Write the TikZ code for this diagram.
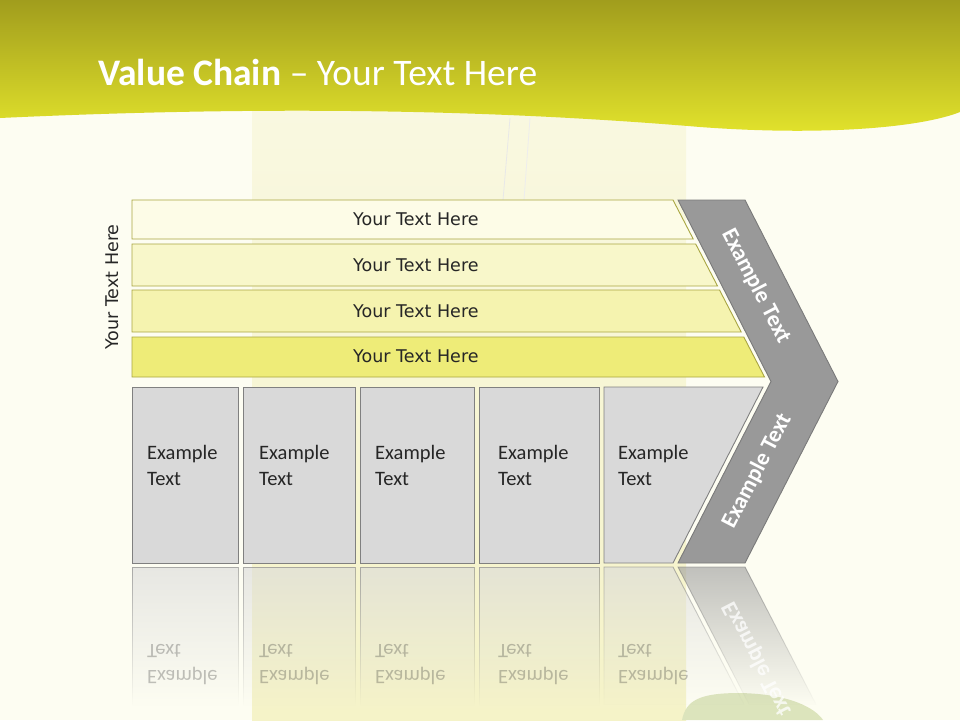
\documentclass[tikz,border=0pt]{standalone}
\usepackage{fontspec}
\setmainfont{Carlito}
\newfontfamily\verdfont{DejaVu Sans}
\usepackage{tikz}
\usetikzlibrary{fadings}
\definecolor{bgcream}{HTML}{FDFDF2}
\definecolor{bandtop}{HTML}{A19D1D}
\definecolor{bandbot}{HTML}{E3E42C}
\definecolor{colyelA}{HTML}{F9F8E0}
\definecolor{colyelB}{HTML}{F5F3C8}
\definecolor{leafgreen}{HTML}{DCE4BC}
\definecolor{barA}{HTML}{FDFCE7}
\definecolor{barB}{HTML}{F8F7CA}
\definecolor{barC}{HTML}{F5F3AF}
\definecolor{barD}{HTML}{EEEC78}
\definecolor{barline}{HTML}{A9A642}
\definecolor{boxgray}{HTML}{D9D9D9}
\definecolor{boxline}{HTML}{808080}
\definecolor{chevgray}{HTML}{999999}
\definecolor{chevline}{HTML}{7A7A7A}
\definecolor{txtdark}{HTML}{262626}
\tikzfading[name=reflfade, top color=transparent!40, bottom color=transparent!100]
\tikzset{
  barbox/.style={draw=barline, line width=0.9pt, fill=#1},
  bartxt/.style={anchor=west, inner sep=0pt, text=txtdark,
                 font=\verdfont\fontsize{17.5}{21}\selectfont},
  exbox/.style={draw=boxline, line width=0.9pt, fill=boxgray},
  extxt/.style={anchor=west, inner sep=0pt, align=left, text=txtdark,
                font=\fontsize{20.5}{26}\selectfont},
  chev/.style={draw=chevline, line width=0.9pt, fill=chevgray},
  chevtxt/.style={inner sep=0pt, text=white, font=\bfseries\fontsize{23}{27}\selectfont},
  reflbox/.style={draw=boxline, line width=0.9pt, fill=#1, path fading=reflfade},
  refltxt/.style={extxt, opacity=0.28, yscale=-1},
}
\begin{document}
\begin{tikzpicture}[x=1pt, y=-1pt]
  \useasboundingbox (0,0) rectangle (960,720);
  % background, glass column and leaf
  \fill[bgcream] (0,0) rectangle (960,720);
  \shade[top color=colyelA, bottom color=colyelB] (252,110) rectangle (686,720);
  \draw[black!9, line width=0.8pt] (510,118) -- (503,200);
  \draw[black!7, line width=0.8pt] (530,118) -- (524,200);
  \fill[leafgreen] (682,720) .. controls (686,700) and (700,693) .. (740,693)
                   .. controls (790,694) and (815,708) .. (823,720) -- cycle;
  % header band
  \shade[top color=bandtop, bottom color=bandbot] (0,0) -- (0,118)
        .. controls (300,104) and (520,112) .. (700,127)
        .. controls (820,136) and (920,128) .. (960,112) -- (960,0) -- cycle;
  \node[anchor=base west, inner sep=0pt, text=white, font=\fontsize{37.5}{44}\selectfont]
        (title) at (98,85) {\textbf{Value Chain} – Your Text Here};
  % support bars
  \draw[barbox=barA] (132,200) -- (673,200) -- (693.2,239) -- (132,239) -- cycle;
  \draw[barbox=barB] (132,244) -- (695.7,244) -- (717.5,286) -- (132,286) -- cycle;
  \draw[barbox=barC] (132,290) -- (719.5,290) -- (741.2,332) -- (132,332) -- cycle;
  \draw[barbox=barD] (132,337) -- (743.8,337) -- (764.5,377) -- (132,377) -- cycle;
  \node[bartxt] (b1) at (353,219) {Your Text Here};
  \node[bartxt] (b2) at (353,265) {Your Text Here};
  \node[bartxt] (b3) at (353,311) {Your Text Here};
  \node[bartxt] (b4) at (353,356) {Your Text Here};
  \node[bartxt, anchor=center, rotate=90] (side) at (112,287) {Your Text Here};
  % chevron
  \draw[chev] (678,200) -- (745,200) -- (838,381.5) -- (745,563) -- (678,563)
              -- (771,381.5) -- cycle;
  \node[chevtxt, rotate=-62.6] (c1) at (756,286) {Example Text};
  \node[chevtxt, rotate=62.6] (c2) at (757,471) {Example Text};
  % primary activities
  \draw[exbox] (132,387) rectangle (238,563);
  \draw[exbox] (243,387) rectangle (355,563);
  \draw[exbox] (360,387) rectangle (474,563);
  \draw[exbox] (479,387) rectangle (599,563);
  \draw[exbox] (604,387) -- (763,387) -- (673,563) -- (604,563) -- cycle;
  \node[extxt] (e1) at (147,465.5) {Example\\Text};
  \node[extxt] (e2) at (259,465.5) {Example\\Text};
  \node[extxt] (e3) at (375,465.5) {Example\\Text};
  \node[extxt] (e4) at (498,465.5) {Example\\Text};
  \node[extxt] (e5) at (618,465.5) {Example\\Text};
  % reflection
  \draw[reflbox=boxgray] (132,567) rectangle (238,705);
  \draw[reflbox=boxgray] (243,567) rectangle (355,705);
  \draw[reflbox=boxgray] (360,567) rectangle (474,705);
  \draw[reflbox=boxgray] (479,567) rectangle (599,705);
  \draw[reflbox=boxgray] (604,567) -- (673,567) -- (744.3,705) -- (604,705) -- cycle;
  \draw[reflbox=chevgray, draw=chevline] (678,567) -- (745,567) -- (816.3,705)
        -- (749.3,705) -- cycle;
  \node[refltxt] (r1) at (147,664.5) {Example\\Text};
  \node[refltxt] (r2) at (259,664.5) {Example\\Text};
  \node[refltxt] (r3) at (375,664.5) {Example\\Text};
  \node[refltxt] (r4) at (498,664.5) {Example\\Text};
  \node[refltxt] (r5) at (618,664.5) {Example\\Text};
  \node[chevtxt, opacity=0.75, yscale=-1, rotate=62.6] (r6) at (757,659) {Example Text};
\end{tikzpicture}
\end{document}
